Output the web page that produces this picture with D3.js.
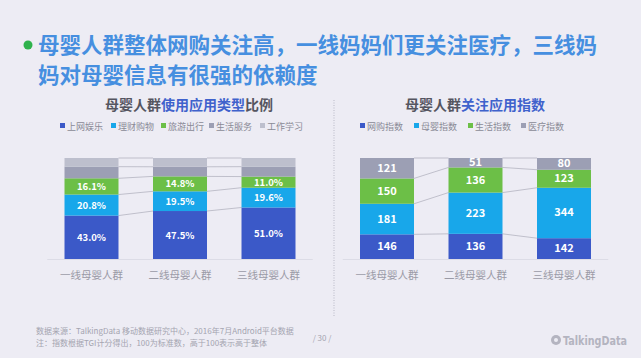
<!DOCTYPE html>
<html>
<head>
<meta charset="utf-8">
<script src="https://cdn.jsdelivr.net/npm/d3@7"></script>
<style>
  html, body { margin: 0; padding: 0; background: #edecf4; }
  svg { display: block; font-family: "Noto Sans CJK SC", "Noto Sans", sans-serif; }
</style>
</head>
<body>
<svg id="chart" width="641" height="358"></svg>
<script>
// categories
const groups = ['一线母婴人群', '二线母婴人群', '三线母婴人群'];

// left chart: share of app types (%)
const appTypes = ['上网娱乐', '理财购物', '旅游出行', '生活服务', '工作学习'];
const entertain = [43.0, 47.5, 51.0];
const finance = [20.8, 19.5, 19.6];
const travel = [16.1, 14.8, 11.0];
const lifeSvc = [11.5, 9.5, 9.8];
const work = [8.6, 8.7, 8.6];

// right chart: attention index
const indexTypes = ['网购指数', '母婴指数', '生活指数', '医疗指数'];
const shopping = [146, 136, 142];
const baby = [181, 223, 344];
const life = [150, 136, 123];
const medical = [121, 51, 80];

const colors = ['#3b59c8', '#18a7ea', '#6cbf47', '#9c9fb4', '#bdbfcd'];

const svg = d3.select('#chart');

// headline
svg.append('circle').attr('cx', 28).attr('cy', 45).attr('r', 4.5).attr('fill', '#2fb24c');
const head = svg.append('text')
  .attr('fill', '#468fe0').attr('font-size', 21.5).attr('font-weight', 'bold');
head.append('tspan').attr('x', 38).attr('y', 53).text('母婴人群整体网购关注高，一线妈妈们更关注医疗，三线妈');
head.append('tspan').attr('x', 38).attr('y', 83).text('妈对母婴信息有很强的依赖度');

// dotted divider
svg.append('line')
  .attr('x1', 334).attr('x2', 334).attr('y1', 100).attr('y2', 316)
  .attr('stroke', '#b9b9c6').attr('stroke-width', 1).attr('stroke-dasharray', '1,1.5');

const y = d3.scaleLinear().domain([0, 1]).range([259, 158]);

function drawChart(opt) {
  const g = svg.append('g');
  const x = d3.scaleBand().domain(groups).range(opt.range)
    .paddingInner(0.39).paddingOuter(0.195);

  // title, part of it in blue
  const t = g.append('text').attr('x', opt.titleX).attr('y', 110)
    .attr('text-anchor', 'middle').attr('font-size', 14).attr('font-weight', 'bold');
  opt.title.forEach(p => t.append('tspan').attr('fill', p[1]).text(p[0]));

  // legend
  opt.names.forEach((n, i) => {
    const lx = opt.legendX[i];
    g.append('rect').attr('x', lx).attr('y', 123).attr('width', 5).attr('height', 5)
      .attr('fill', colors[i]);
    g.append('text').attr('x', lx + 7).attr('y', 129.5).attr('font-size', 9)
      .attr('fill', '#8a8a96').text(n);
  });

  // normalise each group to 100%
  const rows = groups.map((grp, j) => {
    const r = { grp };
    opt.names.forEach((n, i) => r[n] = opt.series[i][j]);
    return r;
  });
  const stack = d3.stack().keys(opt.names).offset(d3.stackOffsetExpand)(rows);

  // baseline
  g.append('line').attr('x1', opt.range[0]).attr('x2', opt.range[1])
    .attr('y1', 259.5).attr('y2', 259.5).attr('stroke', '#dcdce6');

  // series lines between bars
  stack.forEach(layer => {
    for (let j = 0; j < groups.length - 1; j++) {
      g.append('line')
        .attr('x1', x(groups[j]) + x.bandwidth()).attr('y1', y(layer[j][1]))
        .attr('x2', x(groups[j + 1])).attr('y2', y(layer[j + 1][1]))
        .attr('stroke', '#b4b4c0').attr('stroke-width', 0.8);
    }
  });

  stack.forEach((layer, i) => {
    g.selectAll(null).data(layer).enter().append('rect')
      .attr('x', d => x(d.data.grp))
      .attr('y', d => y(d[1]))
      .attr('width', x.bandwidth())
      .attr('height', d => y(d[0]) - y(d[1]))
      .attr('fill', colors[i]);
    if (i < opt.labelled) {
      g.selectAll(null).data(layer).enter().append('text')
        .attr('x', d => x(d.data.grp) + x.bandwidth() / 2)
        .attr('y', d => (y(d[0]) + y(d[1])) / 2 + 3.5)
        .attr('text-anchor', 'middle').attr('font-size', opt.labelSize)
        .attr('font-weight', 'bold').attr('fill', '#fff')
        .text(d => opt.fmt(d.data[opt.names[i]]));
    }
  });

  // category labels
  g.selectAll(null).data(groups).enter().append('text')
    .attr('x', d => x(d) + x.bandwidth() / 2).attr('y', 279)
    .attr('text-anchor', 'middle').attr('font-size', 10.5).attr('fill', '#9a9aa6')
    .text(d => d);
}

drawChart({
  range: [47.25, 312.75],
  title: [['母婴人群', '#555560'], ['使用应用类型', '#3f62cc'], ['比例', '#555560']],
  titleX: 189,
  names: appTypes,
  legendX: [60, 111, 161, 209, 260],
  series: [entertain, finance, travel, lifeSvc, work],
  labelled: 3,
  labelSize: 9.5,
  fmt: v => v.toFixed(1) + '%'
});

drawChart({
  range: [342.75, 608.25],
  title: [['母婴人群', '#555560'], ['关注应用指数', '#3f62cc'], ['', '#555560']],
  titleX: 475,
  names: indexTypes,
  legendX: [360, 414, 468, 521],
  series: [shopping, baby, life, medical],
  labelled: 4,
  labelSize: 11,
  fmt: v => String(v)
});

// footer
const foot = svg.append('text').attr('font-size', 8).attr('fill', '#a4a4b0');
foot.append('tspan').attr('x', 36).attr('y', 334).text('数据来源：TalkingData 移动数据研究中心，2016年7月Android平台数据');
foot.append('tspan').attr('x', 36).attr('y', 346).text('注：指数根据TGI计分得出，100为标准数，高于100表示高于整体');
svg.append('text').attr('x', 322).attr('y', 341).attr('text-anchor', 'middle')
  .attr('font-size', 8).attr('fill', '#a4a4b0').text('/ 30 /');

// logo
svg.append('circle').attr('cx', 556).attr('cy', 340).attr('r', 5).attr('fill', '#b4b4c0');
svg.append('circle').attr('cx', 556).attr('cy', 340).attr('r', 2).attr('fill', '#edecf4');
svg.append('text').attr('x', 563).attr('y', 345).attr('font-size', 13)
  .attr('font-family', 'DejaVu Sans Condensed').attr('font-weight', 'bold')
  .attr('textLength', 64).attr('lengthAdjust', 'spacingAndGlyphs')
  .attr('fill', '#b4b4c0').text('TalkingData');
</script>
</body>
</html>
